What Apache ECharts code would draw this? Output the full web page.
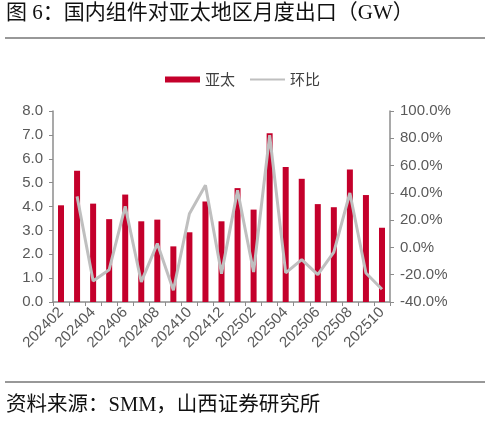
<!DOCTYPE html>
<html>
<head>
<meta charset="utf-8">
<script src="https://cdn.jsdelivr.net/npm/echarts@6/dist/echarts.min.js"></script>
<style>
  html, body { margin: 0; padding: 0; background: #fff; }
  #chart { width: 485px; height: 423px; }
</style>
</head>
<body>
<div id="chart"></div>
<script>
const months = ['202402', '202403', '202404', '202405', '202406', '202407', '202408',
    '202409', '202410', '202411', '202412', '202501', '202502', '202503', '202504',
    '202505', '202506', '202507', '202508', '202509', '202510'];
const apacExport = [4.05, 5.5, 4.12, 3.47, 4.5, 3.38, 3.45, 2.33, 2.92, 4.21, 3.38,
    4.77, 3.87, 7.07, 5.65, 5.16, 4.1, 3.97, 5.55, 4.48, 3.11];
const momChange = [null, 37.4, -24.6, -16.3, 30.1, -25.3, 2.8, -31.4, 24.7, 45.5, -19.2,
    41.8, -18.0, 82.2, -18.7, -9.0, -20.0, -3.4, 39.9, -18.7, -30.7];

const titleText = '图 6：国内组件对亚太地区月度出口（GW）';
const sourceText = '资料来源：SMM，山西证券研究所';

const axisGray = '#8c8c8c';
const labelGray = '#595959';
const textFont = '"Liberation Serif", "Noto Sans CJK SC", serif';
const axisFont = '"Liberation Sans", Arial, sans-serif';

const chart = echarts.init(document.getElementById('chart'));

chart.setOption({
    animation: false,
    backgroundColor: '#fff',
    graphic: [
        {
            type: 'text', left: 6, top: 3,
            style: { text: titleText, fontSize: 21, fontFamily: textFont, fill: '#111' }
        },
        {
            type: 'line', shape: { x1: 5, y1: 38, x2: 485, y2: 38 },
            style: { stroke: '#333', lineWidth: 1.2 }
        },
        {
            type: 'line', shape: { x1: 5, y1: 382, x2: 485, y2: 382 },
            style: { stroke: '#333', lineWidth: 1.2 }
        },
        {
            type: 'text', left: 6, top: 395,
            style: { text: sourceText, fontSize: 20.5, fontFamily: textFont, fill: '#111' }
        }
    ],
    legend: {
        top: 67,
        left: 'center',
        itemGap: 14,
        itemWidth: 35,
        itemHeight: 6,
        textStyle: { fontSize: 15, color: '#404040', fontFamily: '"Noto Sans CJK SC", sans-serif' },
        data: [
            { name: '亚太', icon: 'rect' },
            { name: '环比', itemStyle: { opacity: 0 }, lineStyle: { width: 2 } }
        ]
    },
    grid: { left: 53, right: 95, top: 111, bottom: 121 },
    xAxis: {
        type: 'category',
        data: months,
        axisLine: { lineStyle: { color: axisGray, width: 1.5 } },
        axisTick: { show: true, interval: 0, length: 4, lineStyle: { color: axisGray } },
        axisLabel: {
            interval: 1,
            rotate: 45,
            margin: 8,
            fontSize: 15,
            color: labelGray,
            fontFamily: axisFont
        }
    },
    yAxis: [
        {
            type: 'value',
            min: 0, max: 8, interval: 1,
            splitLine: { show: false },
            axisLine: { show: true, lineStyle: { color: axisGray, width: 1.5 } },
            axisTick: { show: true, length: 4, lineStyle: { color: axisGray } },
            axisLabel: {
                fontSize: 15, color: labelGray, margin: 10, fontFamily: axisFont,
                formatter: (v) => v.toFixed(1)
            }
        },
        {
            type: 'value',
            min: -40, max: 100, interval: 20,
            splitLine: { show: false },
            axisLine: { show: true, lineStyle: { color: axisGray, width: 1.5 } },
            axisTick: { show: true, length: 4, lineStyle: { color: axisGray } },
            axisLabel: {
                fontSize: 15, color: labelGray, margin: 10, fontFamily: axisFont,
                formatter: (v) => v.toFixed(1) + '%'
            }
        }
    ],
    series: [
        {
            name: '亚太',
            type: 'bar',
            data: apacExport,
            barWidth: 6,
            itemStyle: { color: '#c4002b' }
        },
        {
            name: '环比',
            type: 'line',
            yAxisIndex: 1,
            data: momChange,
            symbol: 'none',
            lineStyle: { color: '#bfbfbf', width: 3 },
            itemStyle: { color: '#bfbfbf' }
        }
    ]
});
</script>
</body>
</html>
